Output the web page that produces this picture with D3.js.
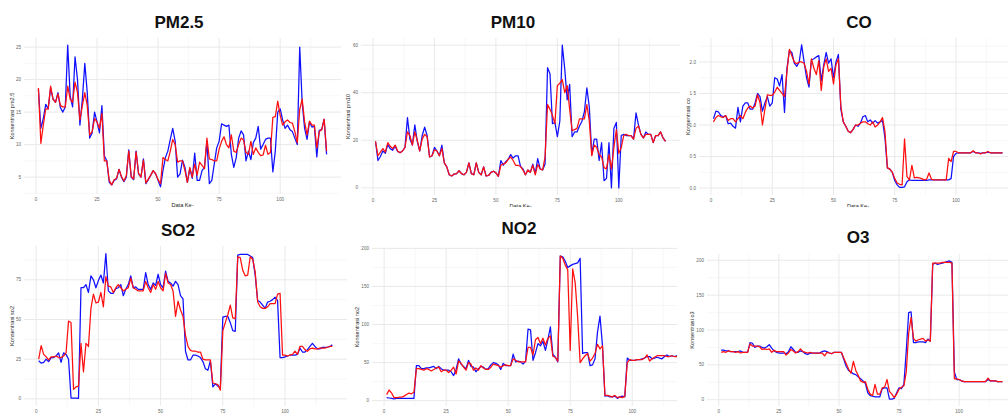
<!DOCTYPE html>
<html>
<head>
<meta charset="utf-8">
<title>Aktual vs Prediksi</title>
<script src="https://cdn.jsdelivr.net/npm/d3@7"></script>
<style>
body { margin: 0; background: #fff; overflow: hidden; }
text { font-family: "Liberation Sans", Arial, sans-serif; }
.title { font-weight: bold; font-size: 17px; fill: #111; }
.tick-label { font-size: 4.6px; fill: #666; }
.axis-title { font-size: 5.6px; fill: #222; }
</style>
</head>
<body>
<svg width="1008" height="414"></svg>
<script>
// nilai aktual (biru) dan prediksi (merah)
const pm25Actual = [18.5,12.5,14,16.2,15.5,18.7,17,16.5,18,15.7,15,15.8,25.3,17.5,15.8,23.5,20,13,17,22.5,
  18,11,11.8,15,13.5,11.8,16,8.3,7.5,4.2,3.8,4.5,4.7,6.2,5,4.3,5,9.2,5,4.6,
  9,5.5,5,7.8,4,4.6,5.3,6,5.5,4.5,3.5,6,8,9,10.8,12.5,10.5,5,5.5,7.6,
  6.5,4.2,6.3,4.8,8.7,4.5,4.5,6,6.5,10.5,4,4.5,7,9.5,10.5,13.2,13,12.8,13,8.5,
  6.5,8,11,12.1,11.5,7.5,9,7.7,10.3,11,12.8,9.3,10,10.8,11,11,5.8,9,15,15.5,
  13.8,12.5,13,12.3,12,11,10,25,16.5,12.5,10.8,13.5,12.7,12.8,8.1,12.2,12.3,13.9,8.5];
const pm25Pred = [18.7,10.2,13,15.5,15.5,19,17,16.5,17.8,16,15.8,15.8,19,17,16.5,19.6,18,13.8,16,18,
  16,11.5,12,14,13.5,12.5,14.8,7.5,7.5,4.5,3.8,4.6,4.8,6.2,5.1,4.4,5.2,9,5.1,4.7,
  8.9,5.6,5,7.6,4.1,4.7,5.3,6,5.5,4.6,4,8,7.7,7.5,9,10.8,10,7.3,7.5,7.5,
  6,4.2,6.5,5,7,5.3,7.3,6.8,6.3,11,7.8,7.7,7.5,7.5,9.3,10.5,11.2,10,9.5,11.5,
  9,8.8,10,11,10.7,8.8,8.5,10.5,8.5,9.5,8.8,8.3,8.4,9.9,8.5,8.8,14.2,14.3,16.7,14.5,
  13,13.5,13.8,13.4,13.3,12,10.3,15.4,17,13.5,11.5,13.6,13,13,9.5,12,12.3,13.9,9];

const pm10Actual = [19.5,11.5,13.2,15.5,14.5,18.2,16.5,15.8,17.5,15.3,14.8,15.5,17,29.5,20.5,18,26.5,19.5,15.5,22,
  25.5,22,13,13.5,17,15.5,13.5,18,10.5,8.8,5.5,5,5.8,6,7.2,6,5.5,6.5,10.5,6,
  5.5,10.5,6.5,5.5,8.8,5,5.2,6.5,7,6.3,4.8,11.5,9.5,11,12,14,12.5,13.5,13.5,9,
  8,5.5,7.5,6.5,10,6,12.3,8,7.5,10,50.5,48,27,27.5,21.5,28,60,50,37,43.5,
  21.5,23.5,23.5,26,28,32,42,34,14,20.5,20.5,11.5,19,3,4,19,0,25,27.5,0,
  22,22.5,22,22,22,20.5,31.5,26.5,22.5,21,23.5,22.5,22.5,19,22,22,23.5,21,19.5];
const pm10Pred = [19.5,13.5,15,16.5,15,19,17.5,16.5,18,15.5,14.8,15.5,17,23.5,22,18,23.5,20,15.5,20.5,
  22.5,21.5,13,13.5,16,15.5,13.5,16.5,10.5,8.8,5.5,5,5.8,6,7.2,6,5.5,6.5,10.5,6,
  5.5,10.5,6.5,5.5,8.8,5,5.2,6.5,7,6.3,4.8,9.5,10,10.5,12,13,11.5,9.5,9.5,9,
  7.5,5.5,7.5,6.5,9.5,5.5,9.8,8,7.5,13,35,33,30.5,27,43,44,45.5,40,43,33,
  24,24.5,25,29,29,29,35,28,13.5,18,17,14,13,8.5,8,14,8,17,24.5,14.5,
  17,22,22.5,22,22,20.5,25,26,22.5,21,22.5,22.5,22.5,19,22,22,23.5,21,19.5];

const coActual = [1.1,1.22,1.21,1.15,1.13,1.15,1.02,1.03,0.98,0.95,1.28,1.05,1.3,1.35,1.35,1.25,1.25,1.35,1.5,1.45,
  1.22,1.35,1.45,1.3,1.35,1.75,1.73,1.62,1.8,1.2,1.9,2.18,2.15,1.98,1.93,2,2.27,2,1.75,1.6,
  2.03,2.05,2.08,2.1,1.7,1.95,2.15,1.98,2.05,1.75,2,2.12,1.25,1.05,0.98,0.9,0.88,0.93,1,0.98,
  1.03,1.13,1.15,1.05,1.08,1.03,1.07,1.03,1.05,1.07,0.8,0.32,0.3,0.25,0.12,0.05,0.01,0.01,0.02,0.1,
  0.13,0.12,0.12,0.12,0.12,0.12,0.12,0.12,0.13,0.13,0.13,0.13,0.13,0.13,0.13,0.13,0.13,0.15,0.5,0.55,
  0.56,0.56,0.56,0.56,0.56,0.56,0.58,0.56,0.56,0.55,0.56,0.56,0.57,0.56,0.56,0.56,0.56,0.56,0.56];
const coPred = [1.05,1.12,1.15,1.13,1.12,1.15,1.07,1.1,1.1,1.05,1.1,1.15,1.1,1.2,1.27,1.3,1.27,1.3,1.48,1.35,
  1,1.25,1.48,1.47,1.47,1.52,1.6,1.55,1.5,1.45,1.85,2.2,2.1,2,1.97,2,2,1.98,1.85,1.65,
  2.05,1.9,1.8,2.02,1.55,1.92,2.05,1.85,1.9,1.65,1.95,2.05,1.3,1.05,0.98,0.9,0.88,0.93,1,1,
  1.03,1.05,1.05,1.02,1,1.05,0.97,1,1.05,1.12,0.9,0.32,0.3,0.25,0.15,0.08,0.06,0.05,0.78,0.18,
  0.13,0.36,0.16,0.17,0.16,0.15,0.13,0.14,0.24,0.14,0.13,0.13,0.13,0.13,0.13,0.13,0.47,0.42,0.58,0.58,
  0.56,0.56,0.56,0.56,0.56,0.56,0.59,0.56,0.56,0.54,0.56,0.56,0.58,0.56,0.56,0.56,0.56,0.56,0.56];

const so2Actual = [24,22.5,23,25,23.5,26,26,27,29,23,29,28,25,0.5,0.5,0.5,0.3,70,70,72,
  67,77.5,75,70,74.5,78,73,91.5,68,66.5,66.5,69.5,70,72,65,69,72,77.5,70,70.5,
  69,69,69,79.5,72,69,73,71.5,78.5,72,70,80.5,74,73,71,74,72,65,63,30,
  24.5,24.5,27.5,27.5,27,26,23.5,19,18,24,7.5,9.5,8,7,51.5,52,52,48,43,42.5,
  90.5,91,91,91,91,90,89,78,62,61,59,57,61,61.5,62.5,64,62,26,26,26.5,
  27,27.5,27.5,27.5,28,32,29.5,29.5,31,33,35,33,31.5,31.5,32.5,32.5,32.5,33,34];
const so2Pred = [25,33.5,28,26.5,24.5,26.5,26.5,27,26,26,27,29,49,48,6,7.5,8,35,17,35,
  33,57,66,60.5,61,67,58,77,71,70.5,67,70,72,70,68,69,70,76,70,69,
  68,68,68,74,70,67,72,69,74,70,68,79,73,72,68,52,61.5,56,52,40,
  33,30.5,30,30,29.5,29.5,25,24.5,24.5,24.5,10,9.5,9,5.5,43,48,53,59,51,50.5,
  89.5,89,81,77.5,78,89.5,88,80,61,58,57,57,58,60,60,60,66,66.5,27.5,27.5,
  27,27.5,28,30,28,33,33,31,30,31.5,32,31.5,31.5,32,32,32,32.5,33,33];

const no2Actual = [4,3.5,3,2.5,3,3,3,3,3,3,3,3,46,46,42,42,43,43,44,45,
  42,45,42,40,40,40,38,33,41,55,48,45,42,53,45,44,38,42,45,44,
  41,42,47,50,49,47,41,49,46,46,46,61,51,52,51,48,52,94,93,53,
  63,75,72,78,66,80,97,61,57,51,190,189,183,175,177,179,180,181,187,62,
  63,63,46,47,55,90,111,73,6,6.5,5,5,6,3,5,6,5,56,53,53,
  53,54,54,55,56,58,58,55,56,57,56,55,58,60,58,59,58,59,60];
const no2Pred = [8,14,10,4,4,4.5,4.5,6,8,10,9,11,42,42,41,40,42,41,39,41,
  43,44,38,40,40,37,40,44,35,52,49,44,40,50,48,40,43,40,46,43,
  41,41,44,48,47,46,44,46,47,46,46,55,53,51,51,51,51,70,70,60,
  80,83,75,82,73,82,85,58,57,52,190,187,178,172,66,173,155,110,50,55,
  59,62,52,56,62,74,68,72,7,7,6,5,7,4,5,4,6,50,54,53,
  53,54,54,54,56,60,52,55,57,59,59,59,59,58,58,59,58,58,59];

const o3Actual = [71,71,70,70,69,69,69,69,70,68,68,68,82,81,75,77,77,75,74,76,
  79,74,70,68,67,67,67,66,69,76,72,68,68,70,69,66,65,67,67,67,
  67,67,69,70,69,67,66,68,68,68,68,58,48,42,40,37,36,33,30,27,
  23,10,6,5,4,4,4,16,17,17,1,1,2,10,17,16,22,70,125,126,
  82,82,83,83,83,82,87,84,194,196,194,195,196,197,198,199,197,40,29,29,
  27,26,26,26,26,26,26,26,26,26,26,29,27,27,27,26,26,26];
const o3Pred = [68,69,68,70,69,69,68,69,67,68,68,68,80,77,77,77,76,72,73,72,
  73,68,71,69,69,69,69,64,67,72,70,67,69,73,69,68,67,68,67,67,
  67,67,67,63,68,67,66,68,68,68,68,60,52,44,38,55,42,35,27,25,
  26,15,8,6,22,8,8,17,18,29,12,8,3,8,15,18,20,40,95,118,
  88,84,86,87,88,84,86,84,196,196,196,196,197,197,197,197,196,30,30,29,
  27,26,26,26,26,26,26,26,26,26,26,31,27,27,27,26,26,26];

const xTicks = [0, 25, 50, 75, 100];
const xMinor = [12.5, 37.5, 62.5, 87.5, 112.5];

const panels = [
  { title: 'PM2.5', yLabel: 'Konsentrasi pm2.5', actual: pm25Actual, predicted: pm25Pred,
    box: [24, 341, 38, 194], yDomain: [2.4, 26.4], yTicks: [5, 10, 15, 20, 25], fmt: d3.format('d'),
    titleX: 179, titleY: 28, yTitleX: 12, xTitle: true, clip: [0, 343, 0, 207] },
  { title: 'PM10', yLabel: 'Konsentrasi pm10', actual: pm10Actual, predicted: pm10Pred,
    box: [361, 680, 38, 195], yDomain: [-3, 63], yTicks: [0, 20, 40, 60], fmt: d3.format('d'),
    titleX: 513, titleY: 28, yTitleX: 348, xTitle: true, clip: [343, 681, 0, 207] },
  { title: 'CO', yLabel: 'Konsentrasi co', actual: coActual, predicted: coPred,
    box: [699, 1017, 38, 195], yDomain: [-0.11, 2.38], yTicks: [0, 0.5, 1, 1.5, 2], fmt: d3.format('.1f'),
    titleX: 859, titleY: 28, yTitleX: 688, xTitle: true, clip: [681, 1008, 0, 207] },
  { title: 'SO2', yLabel: 'Konsentrasi so2', actual: so2Actual, predicted: so2Pred,
    box: [24, 347, 246, 406], yDomain: [-4.5, 96.3], yTicks: [0, 25, 50, 75], fmt: d3.format('d'),
    titleX: 178, titleY: 236, yTitleX: 12, xTitle: false, clip: [0, 350, 207, 414] },
  { title: 'NO2', yLabel: 'Konsentrasi no2', actual: no2Actual, predicted: no2Pred,
    box: [372, 694, 248, 406], yDomain: [-7, 200.5], yTicks: [0, 50, 100, 150, 200], fmt: d3.format('d'),
    titleX: 519, titleY: 234, yTitleX: 357, xTitle: false, clip: [350, 677, 207, 414] },
  { title: 'O3', yLabel: 'Konsentrasi o3', actual: o3Actual, predicted: o3Pred,
    box: [707, 1019, 254, 406], yDomain: [-9, 209], yTicks: [0, 50, 100, 150, 200], fmt: d3.format('d'),
    titleX: 858, titleY: 243, yTitleX: 692, xTitle: false, clip: [677, 1008, 207, 414] }
];

const svg = d3.select('svg');

panels.forEach((p, k) => {
  const [left, right, top, bottom] = p.box;
  const x = d3.scaleLinear().domain([-4.9, 124.9]).range([left, right]);
  const y = d3.scaleLinear().domain(p.yDomain).range([bottom, top]);

  const c = p.clip;
  svg.append('clipPath').attr('id', 'clip' + k)
    .append('rect').attr('x', c[0]).attr('y', c[2]).attr('width', c[1] - c[0]).attr('height', c[3] - c[2]);
  const g = svg.append('g').attr('clip-path', `url(#clip${k})`);

  // minor y grid: halfway between the major breaks
  const step = p.yTicks[1] - p.yTicks[0];
  const yMinor = d3.range(p.yTicks[0] - step / 2, p.yDomain[1], step)
    .filter(v => v > p.yDomain[0] && v < p.yDomain[1]);

  g.selectAll('.ymin').data(yMinor).enter().append('line')
    .attr('x1', left).attr('x2', right).attr('y1', d => y(d)).attr('y2', d => y(d))
    .attr('stroke', '#f2f2f2').attr('stroke-width', 0.6);
  g.selectAll('.xmin').data(xMinor).enter().append('line')
    .attr('y1', top).attr('y2', bottom).attr('x1', d => x(d)).attr('x2', d => x(d))
    .attr('stroke', '#f2f2f2').attr('stroke-width', 0.6);
  g.selectAll('.ymaj').data(p.yTicks).enter().append('line')
    .attr('x1', left).attr('x2', right).attr('y1', d => y(d)).attr('y2', d => y(d))
    .attr('stroke', '#e6e6e6').attr('stroke-width', 0.9);
  g.selectAll('.xmaj').data(xTicks).enter().append('line')
    .attr('y1', top).attr('y2', bottom).attr('x1', d => x(d)).attr('x2', d => x(d))
    .attr('stroke', '#e6e6e6').attr('stroke-width', 0.9);

  // tick labels
  g.selectAll('.ylab').data(p.yTicks).enter().append('text')
    .attr('class', 'tick-label')
    .attr('x', left - 3).attr('y', d => y(d)).attr('dy', '0.35em')
    .attr('text-anchor', 'end').text(p.fmt);
  g.selectAll('.xlab').data(xTicks).enter().append('text')
    .attr('class', 'tick-label')
    .attr('x', d => x(d)).attr('y', bottom + 6.5)
    .attr('text-anchor', 'middle').text(d => d);

  // axis titles (the lower row's x title falls below the picture)
  g.append('text').attr('class', 'axis-title')
    .attr('transform', `translate(${p.yTitleX},${(top + bottom) / 2}) rotate(-90)`)
    .attr('dy', '0.35em').attr('text-anchor', 'middle').text(p.yLabel);
  if (p.xTitle) {
    g.append('text').attr('class', 'axis-title')
      .attr('x', (left + right) / 2).attr('y', bottom + 12.5)
      .attr('text-anchor', 'middle').text('Data Ke-');
  }

  // lines
  const line = d3.line().x((d, i) => x(i + 1)).y(d => y(d));
  g.append('path').datum(p.actual).attr('d', line)
    .attr('fill', 'none').attr('stroke', '#1010ff').attr('stroke-width', 1.25).attr('stroke-linejoin', 'round');
  g.append('path').datum(p.predicted).attr('d', line)
    .attr('fill', 'none').attr('stroke', '#ff1010').attr('stroke-width', 1.25).attr('stroke-linejoin', 'round');

  g.append('text').attr('class', 'title')
    .attr('x', p.titleX).attr('y', p.titleY)
    .attr('text-anchor', 'middle').text(p.title);
});
</script>
</body>
</html>
